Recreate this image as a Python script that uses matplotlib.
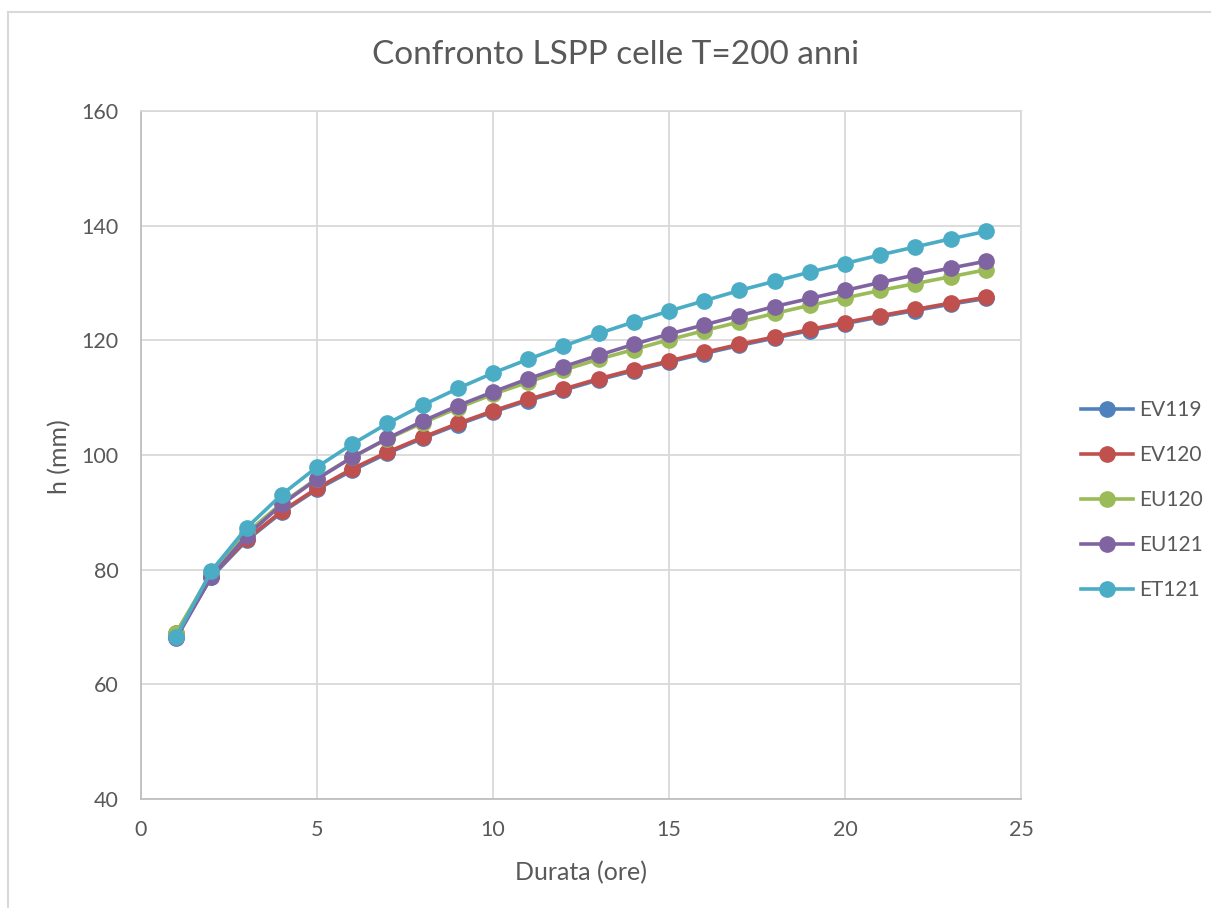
import matplotlib
matplotlib.use("Agg")
import matplotlib.pyplot as plt
from matplotlib.lines import Line2D

plt.rcParams['font.family'] = ['Lato', 'DejaVu Sans']

durata = list(range(1, 25))

ev119 = [68.3, 78.7, 85.1, 90.0, 94.0, 97.3, 100.3, 102.9, 105.3, 107.5, 109.5, 111.3,
         113.1, 114.7, 116.2, 117.7, 119.1, 120.4, 121.7, 122.9, 124.1, 125.2, 126.3, 127.3]
ev120 = [69.0, 78.9, 85.3, 90.2, 94.2, 97.6, 100.5, 103.1, 105.5, 107.7, 109.7, 111.5,
         113.3, 114.9, 116.4, 117.9, 119.3, 120.6, 121.9, 123.1, 124.3, 125.4, 126.5, 127.5]
eu120 = [69.0, 79.5, 86.4, 91.6, 95.9, 99.6, 102.8, 105.6, 108.2, 110.6, 112.7, 114.8,
         116.7, 118.4, 120.1, 121.7, 123.2, 124.7, 126.1, 127.4, 128.7, 129.9, 131.1, 132.3]
eu121 = [68.0, 78.8, 85.9, 91.4, 95.8, 99.6, 102.9, 105.9, 108.6, 111.0, 113.3, 115.4,
         117.4, 119.3, 121.1, 122.7, 124.3, 125.9, 127.3, 128.7, 130.1, 131.4, 132.6, 133.8]
et121 = [68.3, 79.8, 87.3, 93.1, 97.9, 101.9, 105.5, 108.7, 111.6, 114.3, 116.7, 119.0,
         121.2, 123.2, 125.1, 126.9, 128.7, 130.3, 131.9, 133.4, 134.9, 136.3, 137.7, 139.0]

serie = {'EV119': ev119, 'EV120': ev120, 'EU120': eu120, 'EU121': eu121, 'ET121': et121}
colori = ['#4F81BD', '#C0504D', '#9BBB59', '#8064A2', '#4BACC6']

testo = '#595959'
griglia = '#D9D9D9'

fig = plt.figure(figsize=(12.11, 9.08), dpi=100)
ax = fig.add_axes([141/1211, 1 - 799/908, (1021-141)/1211, (799-111)/908])

for (nome, valori), c in zip(serie.items(), colori):
    ax.plot(durata, valori, color=c, lw=2.6, marker='o', markersize=11, label=nome)

ax.set_xlim(0, 25)
ax.set_ylim(40, 160)
ax.set_xticks(range(0, 26, 5))
ax.set_yticks(range(40, 161, 20))
ax.grid(True, color=griglia, lw=1.3)
ax.set_axisbelow(True)
ax.tick_params(length=0, labelsize=15.5, colors=testo)
ax.tick_params(axis='x', pad=15)
ax.tick_params(axis='y', pad=16)
for lato in ['top', 'right']:
    ax.spines[lato].set_color(griglia)
    ax.spines[lato].set_linewidth(1.3)
for lato in ['left', 'bottom']:
    ax.spines[lato].set_color('#BFBFBF')
    ax.spines[lato].set_linewidth(1.3)

ax.set_xlabel('Durata (ore)', fontsize=18, color=testo)
ax.set_ylabel('h (mm)', fontsize=18, color=testo)
ax.xaxis.set_label_coords(0.5, (799 - 873) / 688, transform=ax.transAxes)
ax.yaxis.set_label_coords((60 - 141) / 880, (799 - 457) / 688, transform=ax.transAxes)
ax.xaxis.label.set_va('center')
ax.yaxis.label.set_va('center')
fig.text(616/1211, 1 - 55/908, 'Confronto LSPP celle T=200 anni', fontsize=24,
         color=testo, ha='center', va='center')

maniglie = [Line2D([], [], color=c, lw=2.6, marker='o', markersize=11) for c in colori]
fig.legend(maniglie, list(serie.keys()), loc='center left',
           bbox_to_anchor=(1062/1211, 1 - 500/908), frameon=False, fontsize=15,
           labelcolor=testo, handlelength=2.5, handletextpad=0.3, labelspacing=1.2)

# bordo del grafico
fig.add_artist(Line2D([8/1211, 8/1211], [0, 1 - 12/908], color=griglia, lw=1.5))
fig.add_artist(Line2D([8/1211, 1], [1 - 12/908, 1 - 12/908], color=griglia, lw=1.5))

fig.savefig('out.png', dpi=100)
